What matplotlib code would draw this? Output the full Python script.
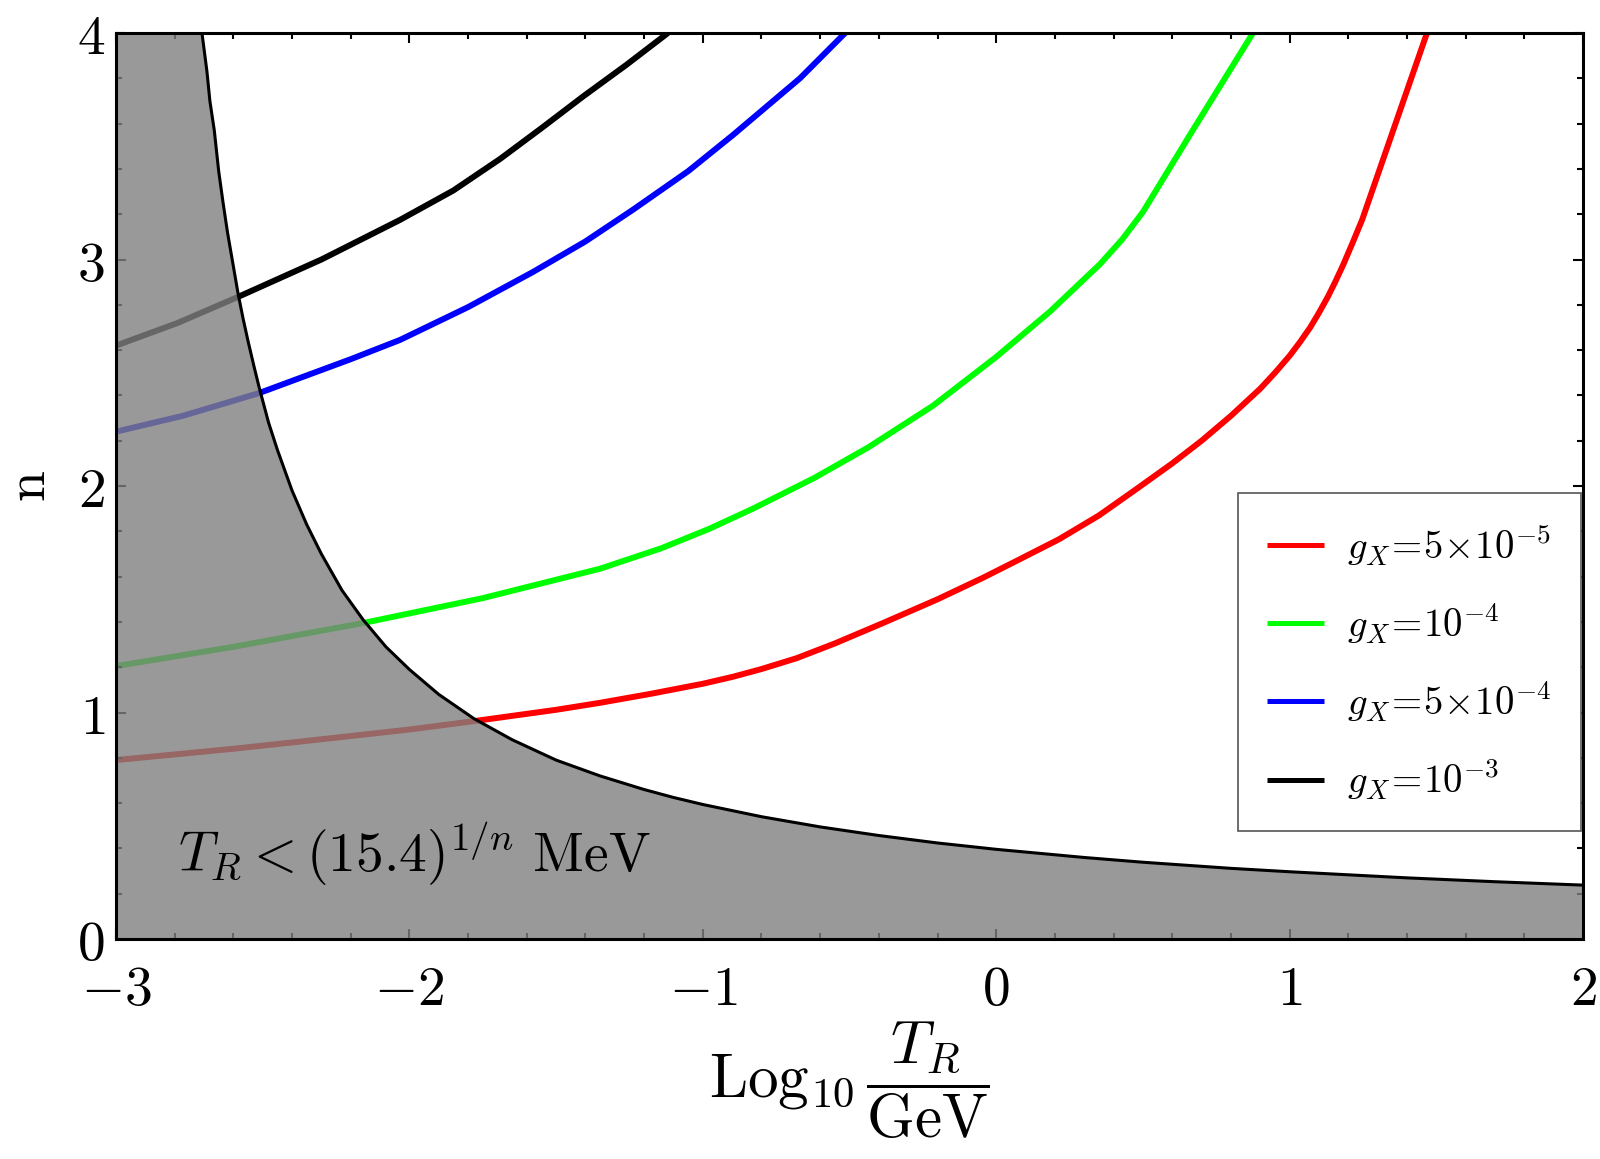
import numpy as np
import matplotlib
matplotlib.use("Agg")
import matplotlib.pyplot as plt
from matplotlib.ticker import MultipleLocator

# ----------------------------
# Data (x = Log10 T_R/GeV, y = n)
# ----------------------------
red_x = [-3.0, -2.6, -2.37, -2.0, -1.78, -1.5, -1.35, -1.18, -1.0, -0.897, -0.8,
         -0.68, -0.55, -0.386, -0.2, -0.045, 0.07, 0.214, 0.35, 0.476, 0.6, 0.7,
         0.8, 0.9, 0.95, 1.0, 1.035, 1.07, 1.10, 1.13, 1.155, 1.182, 1.215,
         1.247, 1.468]
red_n = [0.79, 0.84, 0.872, 0.925, 0.962, 1.012, 1.043, 1.082, 1.127, 1.158, 1.192,
         1.24, 1.305, 1.395, 1.50, 1.595, 1.67, 1.765, 1.87, 1.985, 2.10, 2.20,
         2.31, 2.43, 2.50, 2.575, 2.635, 2.70, 2.765, 2.835, 2.90, 2.975, 3.075,
         3.175, 4.0]

green_x = [-3.0, -2.6, -2.158, -1.75, -1.35, -1.142, -0.98, -0.829, -0.621, -0.437,
           -0.215, 0.0, 0.183, 0.354, 0.43, 0.50, 0.66, 0.875]
green_n = [1.205, 1.29, 1.395, 1.505, 1.635, 1.725, 1.81, 1.90, 2.035, 2.17,
           2.355, 2.57, 2.77, 2.98, 3.09, 3.21, 3.55, 4.0]

blue_x = [-3.0, -2.772, -2.513, -2.2, -2.032, -1.8, -1.579, -1.4, -1.238,
          -1.05, -0.897, -0.669, -0.515]
blue_n = [2.24, 2.31, 2.41, 2.56, 2.645, 2.79, 2.945, 3.08, 3.22,
          3.39, 3.55, 3.80, 4.0]

black_x = [-3.0, -2.79, -2.584, -2.3, -2.032, -1.85, -1.69, -1.55, -1.408, -1.26, -1.119]
black_n = [2.62, 2.72, 2.835, 3.0, 3.175, 3.305, 3.445, 3.58, 3.72, 3.86, 4.0]

# excluded region boundary  T_R < (15.4)^(1/n) MeV
bound_x = [-2.707, -2.69, -2.68, -2.665, -2.65, -2.635, -2.62, -2.60, -2.584,
           -2.567, -2.55, -2.53, -2.513, -2.48, -2.45, -2.4, -2.35, -2.3,
           -2.23, -2.158, -2.08, -2.0, -1.9, -1.78, -1.65, -1.5, -1.35, -1.2,
           -1.1, -1.0, -0.8, -0.6, -0.4, -0.2, 0.0, 0.3, 0.5, 0.8, 1.0, 1.4,
           1.7, 2.0]
bound_n = [4.0, 3.83, 3.70, 3.57, 3.39, 3.25, 3.12, 2.97, 2.85,
           2.74, 2.64, 2.53, 2.44, 2.28, 2.16, 1.98, 1.83, 1.70,
           1.54, 1.41, 1.29, 1.19, 1.08, 0.973, 0.88, 0.79, 0.72, 0.66,
           0.625, 0.594, 0.54, 0.495, 0.457, 0.424, 0.396, 0.36, 0.339, 0.312,
           0.297, 0.27, 0.253, 0.238]

labels = [r'$g_X\!=\!5\!\times\!10^{-5}$', r'$g_X\!=\!10^{-4}$',
          r'$g_X\!=\!5\!\times\!10^{-4}$', r'$g_X\!=\!10^{-3}$']
colors = ['#ff0000', '#00ff00', '#0000ff', '#000000']

x_ticks = [-3, -2, -1, 0, 1, 2]
y_ticks = [0, 1, 2, 3, 4]

# ----------------------------
# Figure
# ----------------------------
plt.rcParams['mathtext.fontset'] = 'cm'
plt.rcParams['font.family'] = ['DejaVu Serif']

fig = plt.figure(figsize=(16, 11.59), dpi=100)
ax = fig.add_axes([0.0725, 0.1898, 0.9169, 0.7817])

curves = [(red_x, red_n), (green_x, green_n), (blue_x, blue_n), (black_x, black_n)]
for (cx, cn), c, lab in zip(curves, colors, labels):
    ax.plot(cx, cn, color=c, lw=4.3, label=lab, zorder=1,
            solid_joinstyle='round', solid_capstyle='butt')

# gray shaded region drawn over the curves so they look faded inside it
fill_x = [-3.0] + bound_x
fill_n = [4.0] + bound_n
ax.fill_between(fill_x, 0, fill_n, color='#808080', alpha=0.8, lw=0, zorder=2)
ax.plot(bound_x, bound_n, color='black', lw=2.2, zorder=3)

ax.text(-2.79, 0.38, r'$T_R < (15.4)^{1/n}\ \mathrm{MeV}$', fontsize=40,
        ha='left', va='center', zorder=4)

ax.set_xlim(-3, 2)
ax.set_ylim(0, 4)
ax.set_xticks(x_ticks)
ax.set_xticklabels([r'$%d$' % t for t in x_ticks])
ax.set_yticks(y_ticks)
ax.set_yticklabels([r'$%d$' % t for t in y_ticks])
ax.xaxis.set_minor_locator(MultipleLocator(0.2))
ax.yaxis.set_minor_locator(MultipleLocator(0.2))
ax.tick_params(which='both', direction='in', top=True, right=True, width=1.5)
ax.tick_params(which='major', length=7, labelsize=40)
ax.tick_params(axis='x', which='major', pad=17)
ax.tick_params(axis='y', which='major', pad=8)
ax.tick_params(which='minor', length=4)
for s in ax.spines.values():
    s.set_linewidth(2.2)
    s.set_zorder(5)

ax.set_xlabel(r'$\mathrm{Log}_{10}\,\dfrac{T_R}{\mathrm{GeV}}$', fontsize=44, labelpad=2)
ax.set_ylabel(r'$\mathrm{n}$', fontsize=40, labelpad=14)

leg = ax.legend(loc='upper left', bbox_to_anchor=(0.765, 0.492), fontsize=28,
                frameon=True, fancybox=False, edgecolor='#555555', framealpha=1,
                handlelength=1.45, handletextpad=0.6, labelspacing=0.85,
                borderpad=0.75, borderaxespad=0)
leg.get_frame().set_linewidth(1.2)
for h in leg.get_lines():
    h.set_linewidth(3.6)
leg.set_zorder(6)

fig.savefig("out.png", dpi=100)
